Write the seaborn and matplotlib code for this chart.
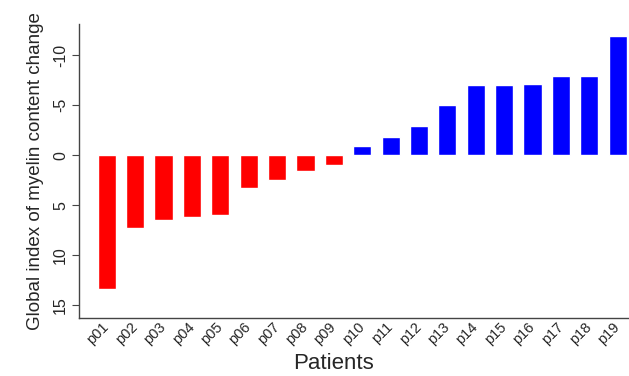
import matplotlib
matplotlib.use("Agg")
import matplotlib.pyplot as plt
import matplotlib.transforms as mtransforms
import seaborn as sns
import pandas as pd

patients = ["p01", "p02", "p03", "p04", "p05", "p06", "p07", "p08", "p09", "p10",
            "p11", "p12", "p13", "p14", "p15", "p16", "p17", "p18", "p19"]
values = [13.4, 7.3, 6.5, 6.2, 6.0, 3.3, 2.5, 1.6, 1.0, -0.95,
          -1.8, -2.9, -5.0, -7.0, -7.0, -7.1, -7.9, -7.9, -11.9]
groups = ["decrease" if v > 0 else "increase" for v in values]
y_ticks = [-10, -5, 0, 5, 10, 15]

df = pd.DataFrame({"patient": patients, "value": values, "group": groups})

sns.set_style("white")
plt.rcParams['font.family'] = ['Liberation Sans', 'DejaVu Sans']

fig = plt.figure(figsize=(6.29, 3.76), dpi=100)
ax = fig.add_axes([0.1256, 0.154, 0.8744, 0.782])
sns.barplot(data=df, x="patient", y="value", hue="group",
            palette={"decrease": "#FF0000", "increase": "#0000FF"},
            width=0.64, dodge=False, legend=False, ax=ax, saturation=1)
ax.set_xlim(-0.98, 18.4)
ax.set_ylim(16.3, -13.1)
ax.set_yticks(y_ticks)
ax.set_yticklabels([str(t) for t in y_ticks], rotation=90, va="center", fontsize=11.5)
offset = mtransforms.ScaledTranslation(-1 / 100, 0, fig.dpi_scale_trans)
for lab in ax.get_xticklabels():
    lab.set_rotation(45)
    lab.set_ha("right")
    lab.set_va("center")
    lab.set_rotation_mode("anchor")
    lab.set_fontsize(10.5)
    lab.set_transform(lab.get_transform() + offset)
ax.tick_params(axis="y", direction="out", length=5, width=0.8, color="#444444", left=True, pad=3)
ax.tick_params(axis="x", bottom=False, pad=1)
ax.set_xlabel("Patients", fontsize=16, va="center")
ax.xaxis.set_label_coords(0.462, -0.155)
ax.set_ylabel("Global index of myelin content change", fontsize=13.5, va="center")
ax.yaxis.set_label_coords(-0.08, 0.5)
for s in ["top", "right"]:
    ax.spines[s].set_visible(False)
for s in ["left", "bottom"]:
    ax.spines[s].set_color("#444444")
    ax.spines[s].set_linewidth(1.0)
fig.savefig("out.png", dpi=100)
